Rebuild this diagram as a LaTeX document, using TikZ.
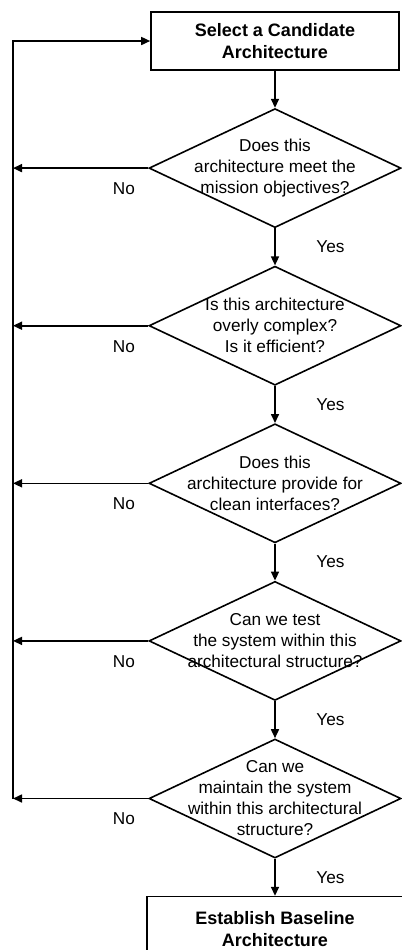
\documentclass[tikz,border=0pt]{standalone}
\usepackage{fontspec}
\setmainfont{Liberation Sans}
\usetikzlibrary{arrows.meta,positioning,shapes.geometric}
\tikzset{
    caixa/.style={
        rectangle,
        draw,
        line width=0.8pt,
        align=center,
        minimum height=29pt,
        font=\fontsize{9}{11}\selectfont\bfseries
    },
    pergunta/.style={
        diamond,
        draw,
        line width=0.8pt,
        align=center,
        aspect=2.1,
        inner sep=-15pt,
        minimum width=126pt,
        minimum height=59.5pt
    },
    seta/.style={-{Triangle[length=4.5pt,width=4pt]}, line width=0.8pt},
    sim/.style={right=17pt, pos=0.5},
    nao/.style={below=3.5pt, pos=0.18}
}

\begin{document}
\begin{tikzpicture}[node distance=18.5pt, font=\fontsize{8.6}{10.5}\selectfont]
    \useasboundingbox (0,0) rectangle (201pt,-475pt);
    \node[caixa, minimum width=124pt] (selecionar) at (137.5pt,-20.5pt)
        {Select a Candidate\\Architecture};
    \node[pergunta, below=of selecionar] (missao)
        {Does this\\architecture meet the\\mission objectives?};
    \node[pergunta, below=of missao] (complexa)
        {Is this architecture\\overly complex?\\Is it efficient?};
    \node[pergunta, below=of complexa] (interfaces)
        {Does this\\architecture provide for\\clean interfaces?};
    \node[pergunta, below=of interfaces] (teste)
        {Can we test\\the system within this\\architectural structure?};
    \node[pergunta, below=of teste] (manter)
        {Can we\\maintain the system\\within this architectural\\structure?};
    \node[caixa, below=of manter, minimum width=128pt, minimum height=32pt] (baseline)
        {Establish Baseline\\Architecture};
    \coordinate (retorno) at (6.5pt,0);

    \draw[seta] (selecionar) -- (missao);
    \draw[seta] (missao) -- node[sim] {Yes} (complexa);
    \draw[seta] (complexa) -- node[sim] {Yes} (interfaces);
    \draw[seta] (interfaces) -- node[sim] {Yes} (teste);
    \draw[seta] (teste) -- node[sim] {Yes} (manter);
    \draw[seta] (manter) -- node[sim] {Yes} (baseline);

    \foreach \q in {missao,complexa,interfaces,teste,manter}
        \draw[seta] (\q.west) -- node[nao] {No} (\q.west -| retorno);
    \draw[seta] (manter.west -| retorno) |- (selecionar.west);
\end{tikzpicture}
\end{document}
